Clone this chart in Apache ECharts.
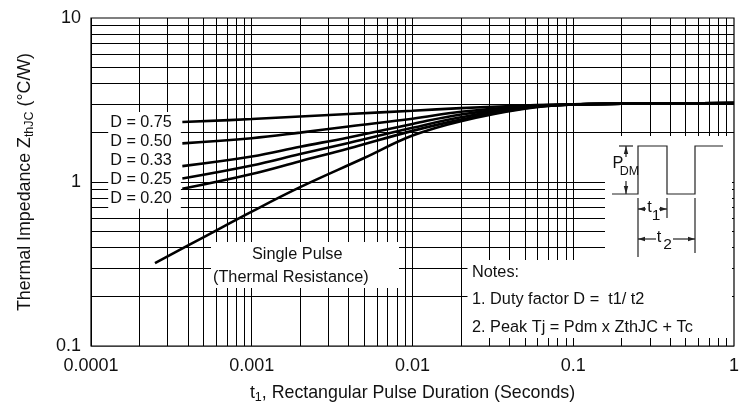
<!DOCTYPE html>
<html>
<head>
<meta charset="utf-8">
<script src="https://cdn.jsdelivr.net/npm/echarts@6/dist/echarts.min.js"></script>
<style>
  html, body { margin: 0; padding: 0; background: #fff; }
  #chart { width: 742px; height: 409px; }
</style>
</head>
<body>
<div id="chart"></div>
<script>
const FONT = '"Liberation Sans", Arial, Helvetica, sans-serif';
const INK = '#111';

// Pulse durations (s) at which the curves are sampled
const tDuty = [0.00037, 0.001, 0.002, 0.004, 0.01, 0.02, 0.05, 0.1, 0.2, 0.5, 1];
const tSingle = [0.00025, 0.0005, 0.001, 0.002, 0.005, 0.01, 0.02, 0.05, 0.1, 0.2, 0.5, 1];

// Transient thermal impedance ZthJC (°C/W)
const zD075 = [2.32, 2.42, 2.51, 2.60, 2.72, 2.82, 2.93, 2.98, 3.00, 3.02, 3.03];
const zD050 = [1.72, 1.85, 2.00, 2.18, 2.43, 2.68, 2.89, 2.98, 3.00, 3.02, 3.03];
const zD033 = [1.25, 1.43, 1.64, 1.87, 2.26, 2.58, 2.87, 2.97, 3.00, 3.02, 3.03];
const zD025 = [1.05, 1.26, 1.48, 1.73, 2.14, 2.48, 2.85, 2.97, 3.00, 3.02, 3.03];
const zD020 = [0.91, 1.12, 1.34, 1.60, 2.05, 2.40, 2.82, 2.97, 3.00, 3.02, 3.03];
const zSingle = [0.32, 0.46, 0.66, 0.93, 1.40, 1.92, 2.35, 2.80, 2.97, 3.00, 3.02, 3.03];

const dutyNames = ['D = 0.75', 'D = 0.50', 'D = 0.33', 'D = 0.25', 'D = 0.20'];
const dutyValues = [zD075, zD050, zD033, zD025, zD020];

// Axis tick labels (one per decade)
const xTickLabels = ['0.0001', '0.001', '0.01', '0.1', '1'];
const yTickLabels = ['0.1', '1', '10'];

// Log grid: every 1..9 multiple of each decade
const xGridValues = [];
for (let e = -4; e < 0; e++) for (let m = 1; m <= 9; m++) xGridValues.push(+(m * Math.pow(10, e)).toPrecision(6));
const yGridValues = [];
for (let e = -1; e < 1; e++) for (let m = 1; m <= 9; m++) yGridValues.push(+(m * Math.pow(10, e)).toPrecision(6));

// vertical nudges of the duty-cycle tags relative to each curve start
const tagNudge = [0, -2, -6, 1, 10];

const chart = echarts.init(document.getElementById('chart'), null, { renderer: 'canvas' });

const X_MIN = 0.0001, X_MAX = 1, Y_MIN = 0.1, Y_MAX = 10;

// grid rules drawn as segments in data space
const gridSeries = {
  type: 'lines',
  coordinateSystem: 'cartesian2d',
  z: 1,
  silent: true,
  polyline: false,
  lineStyle: { color: '#000', width: 1, opacity: 1 },
  data: xGridValues.map(v => ({ coords: [[v, Y_MIN], [v, Y_MAX]] }))
    .concat(yGridValues.map(v => ({ coords: [[X_MIN, v], [X_MAX, v]] })))
};

const curveStyle = { color: '#000', width: 2.6 };

const dutySeries = dutyNames.map((name, i) => ({
  type: 'line',
  name,
  z: 3,
  silent: true,
  smooth: 0.4,
  symbol: 'none',
  lineStyle: curveStyle,
  data: tDuty.map((t, j) => j === 0 ? {
    value: [t, dutyValues[i][j]],
    symbol: 'circle',
    symbolSize: 1,
    itemStyle: { color: 'rgba(0,0,0,0)', borderWidth: 0 },
    label: {
      show: true,
      formatter: name,
      position: 'left',
      distance: 1,
      offset: [0, tagNudge[i]],
      color: INK,
      fontFamily: FONT,
      fontSize: 16.2,
      lineHeight: 18,
      backgroundColor: '#fff',
      padding: [1, 9, 1, 2]
    }
  } : [t, dutyValues[i][j]])
}));

const singleSeries = {
  type: 'line',
  name: 'Single Pulse',
  z: 3,
  silent: true,
  smooth: 0.4,
  symbol: 'none',
  lineStyle: curveStyle,
  data: tSingle.map((t, j) => [t, zSingle[j]])
};

// ---- annotation graphics ----
const G = 50;
const stroke = { stroke: '#222', lineWidth: 1.2, fill: null };
const whiteBox = (x, y, w, h) => ({ type: 'rect', z: G, silent: true, shape: { x, y, width: w, height: h }, style: { fill: '#fff' } });
const seg = (x1, y1, x2, y2) => ({ type: 'line', z: G + 1, silent: true, shape: { x1, y1, x2, y2 }, style: stroke });
const tri = (pts) => ({ type: 'polygon', z: G + 1, silent: true, shape: { points: pts }, style: { fill: '#222' } });
const txt = (x, y, text, size, align) => ({
  type: 'text', z: G + 2, silent: true, x, y,
  style: { text, fill: INK, font: size + 'px ' + FONT, textAlign: align || 'left', textVerticalAlign: 'middle' }
});

const graphics = [
  // "Single Pulse" caption
  whiteBox(211, 242, 188, 46),
  txt(252, 255, 'Single Pulse', 16.3),
  txt(213, 278, '(Thermal Resistance)', 16.3),

  // notes
  whiteBox(467.5, 260, 264.5, 78),
  txt(472, 272.5, 'Notes:', 16.3),
  txt(472, 300, '1. Duty factor D =  t1/ t2', 16.3),
  txt(472, 327.5, '2. Peak Tj = Pdm x ZthJC + Tc', 16.3),

  // pulse waveform sketch
  whiteBox(605, 136, 127, 124),
  { type: 'polyline', z: G + 1, silent: true,
    shape: { points: [[612, 194], [638, 194], [638, 146], [667, 146], [667, 194], [695, 194], [695, 146], [723, 146]] },
    style: stroke },
  // P_DM dimension
  seg(619, 146, 633, 146),
  seg(626, 146, 626, 157),
  seg(626, 181, 626, 194),
  tri([[626, 146], [623.8, 154], [628.2, 154]]),
  tri([[626, 194], [623.8, 186], [628.2, 186]]),
  txt(618, 164, 'P', 16.3, 'center'),
  txt(629.5, 172, 'DM', 12.5, 'center'),
  // t1 / t2 dimensions
  seg(638, 198, 638, 257),
  seg(667, 198, 667, 218),
  seg(695, 198, 695, 253),
  seg(638, 209, 646, 209),
  seg(659, 209, 667, 209),
  tri([[638, 209], [645, 206.8], [645, 211.2]]),
  tri([[667, 209], [660, 206.8], [660, 211.2]]),
  txt(649.5, 208, 't', 16.3, 'center'),
  txt(656, 216, '1', 15.5, 'center'),
  seg(638, 239, 656, 239),
  seg(673, 239, 695, 239),
  tri([[638, 239], [645, 236.8], [645, 241.2]]),
  tri([[695, 239], [688, 236.8], [688, 241.2]]),
  txt(659, 238, 't', 16.3, 'center'),
  txt(667.5, 244.5, '2', 15.5, 'center')
];

const nameRich = {
  n: { fontFamily: FONT, fontSize: 17.8, color: INK, lineHeight: 22 },
  s: { fontFamily: FONT, fontSize: 12.5, color: INK, lineHeight: 6, verticalAlign: 'bottom' }
};

const option = {
  animation: false,
  backgroundColor: '#fff',
  grid: {
    left: 91, right: -2, top: 18, bottom: 62,
    show: true, borderColor: '#000', borderWidth: 1.2, backgroundColor: 'rgba(0,0,0,0)'
  },
  xAxis: {
    type: 'log',
    logBase: 10,
    min: X_MIN,
    max: X_MAX,
    axisLine: { show: false },
    axisTick: { show: false },
    splitLine: { show: false },
    axisLabel: {
      margin: 11,
      showMinLabel: true,
      showMaxLabel: true,
      color: INK,
      fontFamily: FONT,
      fontSize: 18,
      formatter: v => xTickLabels[Math.round(Math.log10(v)) + 4]
    },
    name: '{n|t}{s|1}{n|, Rectangular Pulse Duration (Seconds)}',
    nameLocation: 'middle',
    nameGap: 36,
    nameTextStyle: { rich: nameRich }
  },
  yAxis: {
    type: 'log',
    logBase: 10,
    min: Y_MIN,
    max: Y_MAX,
    axisLine: { show: false },
    axisTick: { show: false },
    splitLine: { show: false },
    axisLabel: {
      margin: 10,
      showMinLabel: true,
      showMaxLabel: true,
      color: INK,
      fontFamily: FONT,
      fontSize: 18,
      formatter: v => yTickLabels[Math.round(Math.log10(v)) + 1]
    },
    name: '{n|Thermal Impedance Z}{s|thJC}{n| (°C/W)}',
    nameLocation: 'middle',
    nameGap: 55,
    nameTextStyle: { rich: nameRich }
  },
  series: [gridSeries].concat(dutySeries, [singleSeries]),
  graphic: graphics
};

chart.setOption(option);
</script>
</body>
</html>
